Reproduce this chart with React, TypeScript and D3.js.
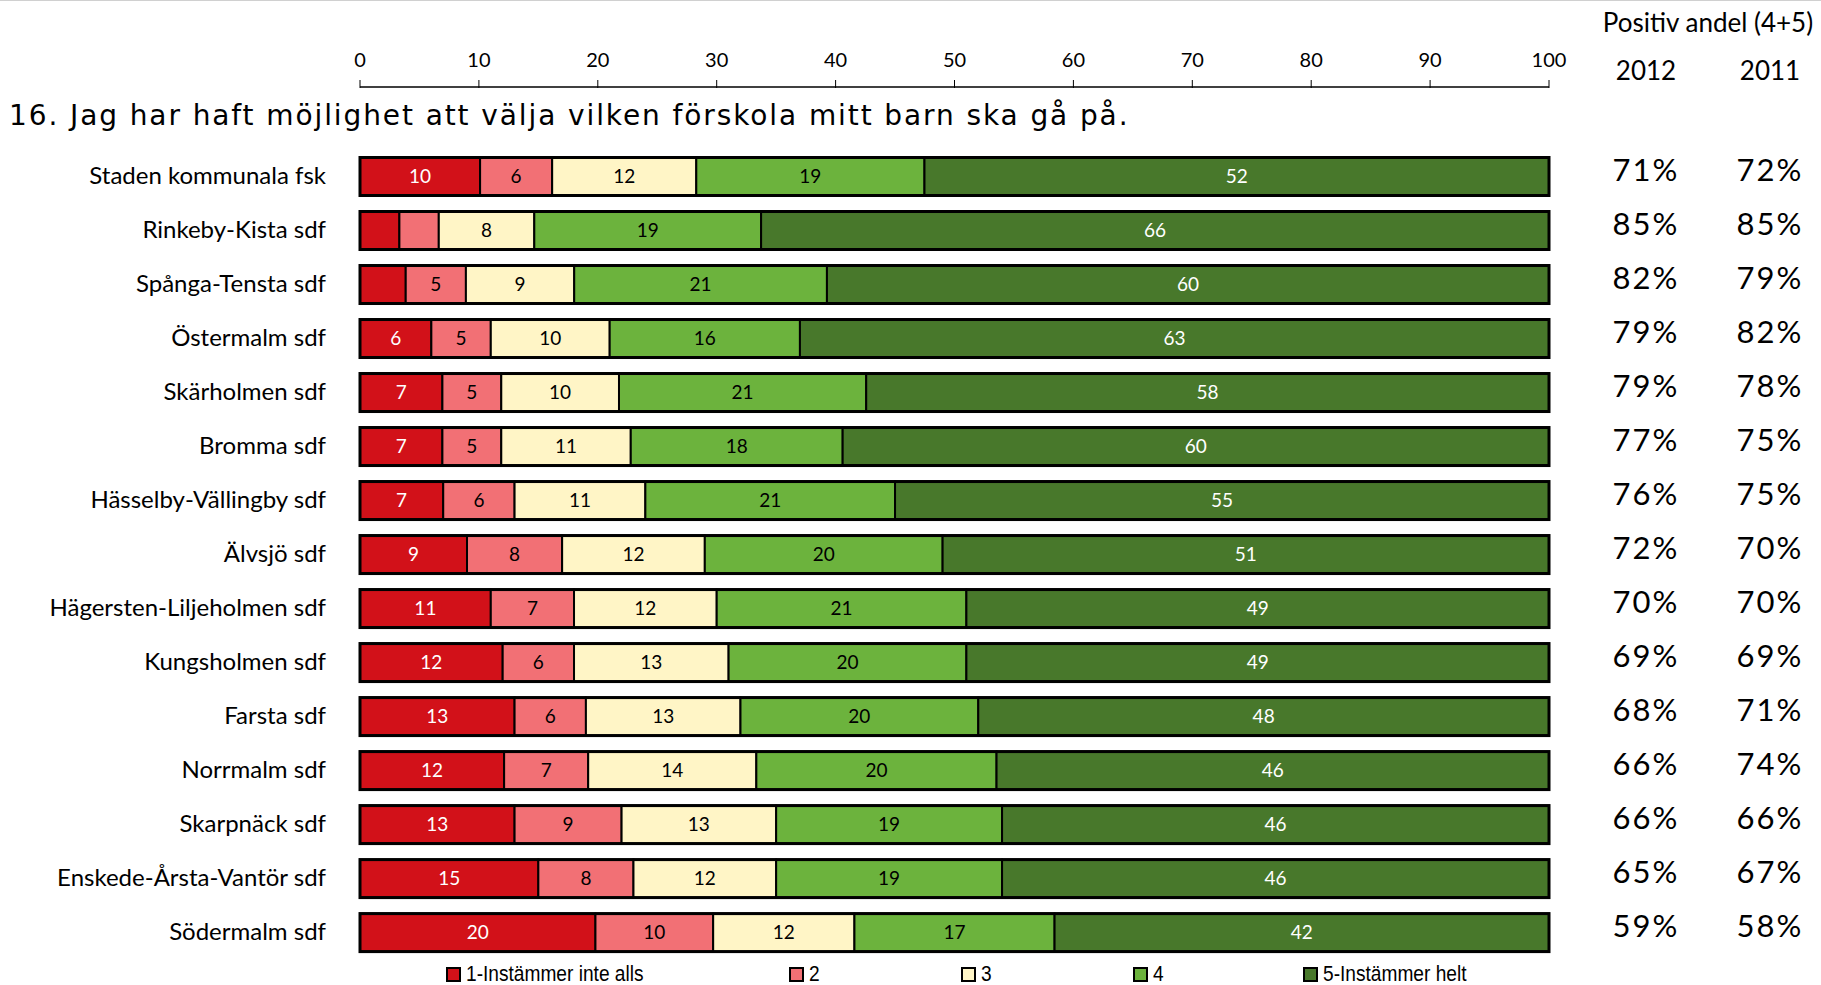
import React from "react";
import * as d3 from "d3";

const categories = [
  "Staden kommunala fsk",
  "Rinkeby-Kista sdf",
  "Spånga-Tensta sdf",
  "Östermalm sdf",
  "Skärholmen sdf",
  "Bromma sdf",
  "Hässelby-Vällingby sdf",
  "Älvsjö sdf",
  "Hägersten-Liljeholmen sdf",
  "Kungsholmen sdf",
  "Farsta sdf",
  "Norrmalm sdf",
  "Skarpnäck sdf",
  "Enskede-Årsta-Vantör sdf",
  "Södermalm sdf",
];

const s1 = [10, 3.3, 3.8, 6, 7, 7, 7, 9, 11, 12, 13, 12, 13, 15, 20];
const s2 = [6, 3.3, 5, 5, 5, 5, 6, 8, 7, 6, 6, 7, 9, 8, 10];
const s3 = [12, 8, 9, 10, 10, 11, 11, 12, 12, 13, 13, 14, 13, 12, 12];
const s4 = [19, 19, 21, 16, 21, 18, 21, 20, 21, 20, 20, 20, 19, 19, 17];
const s5 = [52, 66, 60, 63, 58, 60, 55, 51, 49, 49, 48, 46, 46, 46, 42];

const pos2012 = [71, 85, 82, 79, 79, 77, 76, 72, 70, 69, 68, 66, 66, 65, 59];
const pos2011 = [72, 85, 79, 82, 78, 75, 75, 70, 70, 69, 71, 74, 66, 67, 58];

const seriesNames = ["1-Instämmer inte alls", "2", "3", "4", "5-Instämmer helt"];
const seriesColors = ["#d21119", "#f27075", "#fff5c6", "#6cb33d", "#48782b"];
const labelColors = ["#ffffff", "#000000", "#000000", "#000000", "#ffffff"];

const xTicks = [0, 10, 20, 30, 40, 50, 60, 70, 80, 90, 100];

const title = "16. Jag har haft möjlighet att välja vilken förskola mitt barn ska gå på.";

export default function App() {
  const W = 1821;
  const H = 985;
  const x = d3.scaleLinear().domain([0, 100]).range([360, 1549]);
  const y = d3.scalePoint<string>().domain(categories).range([176.5, 932.6]);
  const barH = 38;
  const gill = "Lato, 'Open Sans', sans-serif";

  const series = [s1, s2, s3, s4, s5];
  const rows = categories.map((c, i) => {
    const vals = series.map((s) => s[i]);
    const total = d3.sum(vals);
    let cum = 0;
    const segs = vals.map((v, k) => {
      const x0 = (cum / total) * 100;
      cum += v;
      const x1 = (cum / total) * 100;
      return { k, v, x0, x1 };
    });
    return { c, i, segs };
  });

  const legendX = [447, 790, 962, 1134, 1304];

  return (
    <svg
      width={W}
      height={H}
      style={{ position: "absolute", left: 0, top: 0, background: "#fff" }}
    >
      <line x1={0} x2={W} y1={0.5} y2={0.5} stroke="#d0d0d0" strokeWidth={1} />

      {/* axis */}
      <g>
        <line x1={x(0)} x2={x(100)} y1={87} y2={87} stroke="#000" strokeWidth={1.5} />
        {xTicks.map((t) => (
          <g key={t}>
            <line x1={x(t)} x2={x(t)} y1={80} y2={88} stroke="#000" strokeWidth={1} />
            <text
              x={x(t)}
              y={67}
              textAnchor="middle"
              fontFamily={gill}
              fontSize={20}
              fill="#000"
            >
              {t}
            </text>
          </g>
        ))}
      </g>

      <text
        x={9}
        y={125}
        fontFamily="'DejaVu Sans', Verdana, sans-serif"
        fontSize={28}
        letterSpacing={1.9}
        fill="#000"
      >
        {title}
      </text>

      {/* header right */}
      <text x={1708} y={32} textAnchor="middle" fontFamily={gill} fontSize={26} fill="#000">
        Positiv andel (4+5)
      </text>
      <text x={1646} y={80} textAnchor="middle" fontFamily={gill} fontSize={26} fill="#000">
        2012
      </text>
      <text x={1770} y={80} textAnchor="middle" fontFamily={gill} fontSize={26} fill="#000">
        2011
      </text>

      {rows.map((r) => {
        const cy = y(r.c) as number;
        return (
          <g key={r.c}>
            <text
              x={326}
              y={cy + 1}
              textAnchor="end"
              dominantBaseline="middle"
              fontFamily={gill}
              fontSize={24}
              fill="#000"
            >
              {r.c}
            </text>
            {r.segs.map((s) => (
              <rect
                key={s.k}
                x={x(s.x0)}
                y={cy - barH / 2}
                width={x(s.x1) - x(s.x0)}
                height={barH}
                fill={seriesColors[s.k]}
                stroke="#000"
                strokeWidth={2}
              />
            ))}
            <rect
              x={x(0)}
              y={cy - barH / 2}
              width={x(100) - x(0)}
              height={barH}
              fill="none"
              stroke="#000"
              strokeWidth={3}
            />
            {r.segs.map((s) =>
              s.v >= 4.5 ? (
                <text
                  key={"t" + s.k}
                  x={(x(s.x0) + x(s.x1)) / 2}
                  y={cy + 2}
                  textAnchor="middle"
                  dominantBaseline="middle"
                  fontFamily={gill}
                  fontSize={19}
                  fill={labelColors[s.k]}
                >
                  {Math.round(s.v)}
                </text>
              ) : null
            )}
            <text
              x={1646}
              y={cy - 3}
              textAnchor="middle"
              dominantBaseline="middle"
              fontFamily={gill}
              fontSize={31}
              letterSpacing={2}
              fill="#000"
            >
              {pos2012[r.i]}%
            </text>
            <text
              x={1770}
              y={cy - 3}
              textAnchor="middle"
              dominantBaseline="middle"
              fontFamily={gill}
              fontSize={31}
              letterSpacing={2}
              fill="#000"
            >
              {pos2011[r.i]}%
            </text>
          </g>
        );
      })}

      {/* legend */}
      {seriesNames.map((n, k) => (
        <g key={n}>
          <rect
            x={legendX[k]}
            y={968}
            width={13}
            height={13}
            fill={seriesColors[k]}
            stroke="#000"
            strokeWidth={2}
          />
          <text
            transform={`translate(${legendX[k] + 19},981) scale(0.87,1)`}
            fontFamily="'Liberation Sans', Arial, sans-serif"
            fontSize={22}
            fill="#000"
          >
            {n}
          </text>
        </g>
      ))}
    </svg>
  );
}
